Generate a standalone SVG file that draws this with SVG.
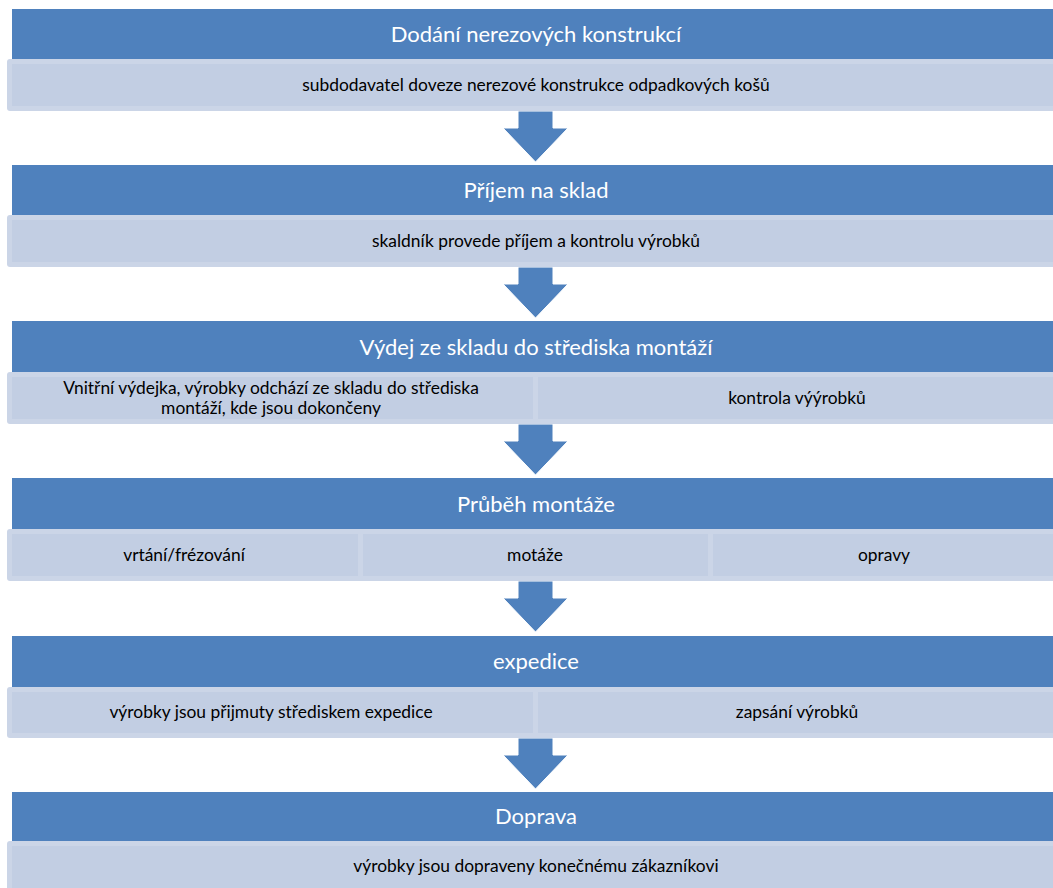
<svg xmlns="http://www.w3.org/2000/svg" width="1053" height="888" viewBox="0 0 1053 888">
  <defs>
    <style>
      .hdr { fill: #4f81bd; }
      .cellOuter { fill: #cbd5e7; }
      .cellInner { fill: #c2cee3; }
      .arrow { fill: #4f81bd; stroke: #ffffff; stroke-width: 1; }
      .ht { font-family: Lato, "Liberation Sans", sans-serif; font-size: 22px; fill: #ffffff; text-anchor: middle; }
      .st { font-family: Lato, "Liberation Sans", sans-serif; font-size: 17.4px; fill: #000000; text-anchor: middle; }
    </style>
    <path id="downArrow" d="M -17.5 0 L 17.5 0 L 17.5 17 L 32.5 17 L 0 51 L -32.5 17 L -17.5 17 Z"/>
  </defs>
  <rect width="1053" height="888" fill="#ffffff"/>

  <!-- connectors: block arrows between the stages -->
  <g id="connectors">
    <use href="#downArrow" class="arrow" x="535.5" y="111"/>
    <use href="#downArrow" class="arrow" x="535.5" y="267"/>
    <use href="#downArrow" class="arrow" x="535.5" y="424"/>
    <use href="#downArrow" class="arrow" x="535.5" y="581"/>
    <use href="#downArrow" class="arrow" x="535.5" y="738"/>
  </g>

  <!-- stage 1 -->
  <g id="stage1">
    <rect class="hdr" x="12" y="9" width="1060" height="50"/>
    <text class="ht" x="536" y="42">Dodání nerezových konstrukcí</text>
    <rect class="cellOuter" x="7" y="59" width="1060" height="52" rx="3"/>
    <rect class="cellInner" x="12" y="64" width="1060" height="42"/>
    <text class="st" x="536" y="91">subdodavatel doveze nerezové konstrukce odpadkových košů</text>
  </g>

  <!-- stage 2 -->
  <g id="stage2">
    <rect class="hdr" x="12" y="165" width="1060" height="50"/>
    <text class="ht" x="536" y="198">Příjem na sklad</text>
    <rect class="cellOuter" x="7" y="215" width="1060" height="52" rx="3"/>
    <rect class="cellInner" x="12" y="220" width="1060" height="42"/>
    <text class="st" x="536" y="247">skaldník provede příjem a kontrolu výrobků</text>
  </g>

  <!-- stage 3 -->
  <g id="stage3">
    <rect class="hdr" x="12" y="321" width="1060" height="51"/>
    <text class="ht" x="536" y="355">Výdej ze skladu do střediska montáží</text>
    <rect class="cellOuter" x="7" y="372" width="1060" height="52" rx="3"/>
    <rect class="cellInner" x="12" y="377" width="521" height="42"/>
    <rect class="cellInner" x="538" y="377" width="534" height="42"/>
    <text class="st" x="271" y="394">Vnitřní výdejka, výrobky odchází ze skladu do střediska</text>
    <text class="st" x="271" y="414">montáží, kde jsou dokončeny</text>
    <text class="st" x="797" y="404">kontrola výýrobků</text>
  </g>

  <!-- stage 4 -->
  <g id="stage4">
    <rect class="hdr" x="12" y="478" width="1060" height="51"/>
    <text class="ht" x="536" y="512">Průběh montáže</text>
    <rect class="cellOuter" x="7" y="529" width="1060" height="52" rx="3"/>
    <rect class="cellInner" x="12" y="534" width="346" height="42"/>
    <rect class="cellInner" x="363" y="534" width="345" height="42"/>
    <rect class="cellInner" x="713" y="534" width="359" height="42"/>
    <text class="st" x="184" y="561">vrtání/frézování</text>
    <text class="st" x="535" y="561">motáže</text>
    <text class="st" x="884" y="561">opravy</text>
  </g>

  <!-- stage 5 -->
  <g id="stage5">
    <rect class="hdr" x="12" y="636" width="1060" height="51"/>
    <text class="ht" x="536" y="669">expedice</text>
    <rect class="cellOuter" x="7" y="687" width="1060" height="51" rx="3"/>
    <rect class="cellInner" x="12" y="692" width="521" height="41"/>
    <rect class="cellInner" x="538" y="692" width="534" height="41"/>
    <text class="st" x="271" y="718">výrobky jsou přijmuty střediskem expedice</text>
    <text class="st" x="797" y="718">zapsání výrobků</text>
  </g>

  <!-- stage 6 -->
  <g id="stage6">
    <rect class="hdr" x="12" y="792" width="1060" height="49"/>
    <text class="ht" x="536" y="824">Doprava</text>
    <rect class="cellOuter" x="7" y="841" width="1060" height="52" rx="3"/>
    <rect class="cellInner" x="12" y="846" width="1060" height="47"/>
    <text class="st" x="536" y="872">výrobky jsou dopraveny konečnému zákazníkovi</text>
  </g>
</svg>
